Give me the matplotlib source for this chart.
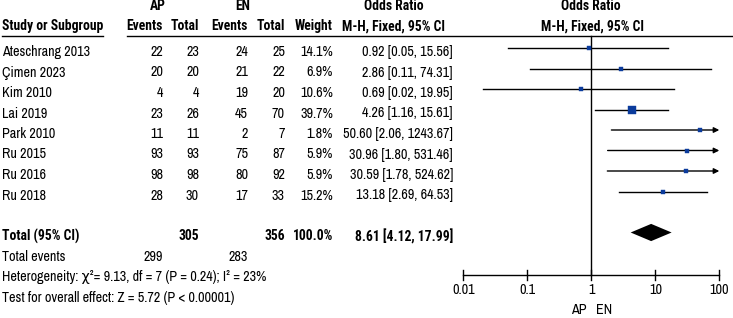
import matplotlib
matplotlib.use("Agg")
import matplotlib.pyplot as plt
from matplotlib.transforms import ScaledTranslation

plt.rcParams["font.family"] = ["Archivo Narrow", "DejaVu Sans"]
# Archivo Narrow ships only a regular weight; bold cells use Roboto Condensed
BOLD_FAMILY = ["Roboto Condensed", "DejaVu Sans"]

# ---------------------------------------------------------------------------
# Data
# ---------------------------------------------------------------------------
studies = ["Ateschrang 2013", "Çimen 2023", "Kim 2010", "Lai 2019",
           "Park 2010", "Ru 2015", "Ru 2016", "Ru 2018"]
ap_events = [22, 20, 4, 23, 11, 93, 98, 28]
ap_total = [23, 20, 4, 26, 11, 93, 98, 30]
en_events = [24, 21, 19, 45, 2, 75, 80, 17]
en_total = [25, 22, 20, 70, 7, 87, 92, 33]
weights = [14.1, 6.9, 10.6, 39.7, 1.8, 5.9, 5.9, 15.2]
odds = [0.92, 2.86, 0.69, 4.26, 50.60, 30.96, 30.59, 13.18]
ci_lo = [0.05, 0.11, 0.02, 1.16, 2.06, 1.80, 1.78, 2.69]
ci_hi = [15.56, 74.31, 19.95, 15.61, 1243.67, 531.46, 524.62, 64.53]

pooled = (8.61, 4.12, 17.99)
total_n = (305, 356)
total_events = (299, 283)
heterogeneity = "Heterogeneity: χ²= 9.13, df = 7 (P = 0.24); I² = 23%"
overall = "Test for overall effect: Z = 5.72 (P < 0.00001)"

x_ticks = [0.01, 0.1, 1, 10, 100]
x_ticklabels = ["0.01", "0.1", "1", "10", "100"]

# ---------------------------------------------------------------------------
# Layout
# ---------------------------------------------------------------------------
W, H = 733, 318
ROW0, ROWH = 48, 20.5          # pixel y of first study row, row pitch
YTOP, YBOT = -ROW0 / ROWH, (H - ROW0) / ROWH
FS = 10.2
FS_BOLD = 9.8
SQ_BLUE = "#0b3b9c"

fig = plt.figure(figsize=(W / 100, H / 100), dpi=100)

# table axes: x in pixels, y in row units
ax_t = fig.add_axes([0, 0, 1, 1])
ax_t.set_xlim(0, W)
ax_t.set_ylim(YBOT, YTOP)
ax_t.axis("off")
shift = ScaledTranslation(0, -4 / 100, fig.dpi_scale_trans)
tr = ax_t.transData + shift


def put(x, row, s, ha="right", bold=False):
    if bold:
        ax_t.text(x, row, s, ha=ha, va="center", fontsize=FS_BOLD, transform=tr,
                  fontweight="bold", family=BOLD_FAMILY)
    else:
        ax_t.text(x, row, s, ha=ha, va="center", fontsize=FS, transform=tr)


COLS = [163, 199, 248, 285, 333]   # right edges: events/total/events/total/weight
OR_RIGHT = 453
OR_CENTER = 394

# header
put(158, -2.25, "AP", ha="center", bold=True)
put(243, -2.25, "EN", ha="center", bold=True)
put(OR_CENTER, -2.25, "Odds Ratio", ha="center", bold=True)
put(2, -1.25, "Study or Subgroup", ha="left", bold=True)
for x, s in zip(COLS, ["Events", "Total", "Events", "Total", "Weight"]):
    put(x, -1.25, s, bold=True)
put(OR_CENTER, -1.25, "M-H, Fixed, 95% CI", ha="center", bold=True)
ax_t.plot([2, 103], [-0.6, -0.6], color="black", lw=1)
ax_t.plot([127, W], [-0.6, -0.6], color="black", lw=1)

# study rows
for i, name in enumerate(studies):
    put(2, i, name, ha="left")
    vals = [ap_events[i], ap_total[i], en_events[i], en_total[i], f"{weights[i]:.1f}%"]
    for x, v in zip(COLS, vals):
        put(x, i, str(v))
    put(OR_RIGHT, i, f"{odds[i]:.2f} [{ci_lo[i]:.2f}, {ci_hi[i]:.2f}]")

# totals
tot_row = len(studies) + 1
put(2, tot_row, "Total (95% CI)", ha="left", bold=True)
put(COLS[1], tot_row, str(total_n[0]), bold=True)
put(COLS[3], tot_row, str(total_n[1]), bold=True)
put(COLS[4], tot_row, "100.0%", bold=True)
put(OR_RIGHT, tot_row, f"{pooled[0]:.2f} [{pooled[1]:.2f}, {pooled[2]:.2f}]", bold=True)
put(2, tot_row + 1, "Total events", ha="left")
put(COLS[0], tot_row + 1, str(total_events[0]))
put(COLS[2], tot_row + 1, str(total_events[1]))
put(2, tot_row + 2, heterogeneity, ha="left")
put(2, tot_row + 3, overall, ha="left")

# ---------------------------------------------------------------------------
# Forest axes (log odds ratio)
# ---------------------------------------------------------------------------
ax_f = fig.add_axes([463.3 / W, 0, 256 / W, 1])
ax_f.patch.set_alpha(0)
ax_f.set_xscale("log")
ax_f.set_xlim(x_ticks[0], x_ticks[-1])
ax_f.set_ylim(YBOT, YTOP)
ax_f.axis("off")

axis_row = 11.07
ax_f.plot([1, 1], [-0.6, axis_row], color="black", lw=1, clip_on=False)

for i in range(len(studies)):
    hi = min(ci_hi[i], x_ticks[-1])
    if ci_hi[i] > x_ticks[-1]:
        # CI runs off the scale -> arrow at the right edge
        ax_f.annotate("", xy=(hi, i), xytext=(ci_lo[i], i),
                      arrowprops=dict(arrowstyle="-|>", color="black", lw=1,
                                      mutation_scale=8, shrinkA=0, shrinkB=0),
                      annotation_clip=False)
    else:
        ax_f.plot([ci_lo[i], hi], [i, i], color="black", lw=1, clip_on=False)
    side = 1.27 * weights[i] ** 0.5 * 0.72   # square area ~ weight
    ax_f.plot(odds[i], i, marker="s", ms=max(side, 2.2), color=SQ_BLUE,
              mec=SQ_BLUE, mew=0.3, zorder=3)

half = 0.42
ax_f.fill([pooled[1], pooled[0], pooled[2], pooled[0]],
          [tot_row, tot_row - half, tot_row, tot_row + half],
          color="black", lw=0)

# bottom axis
ax_f.plot([x_ticks[0], x_ticks[-1]], [axis_row, axis_row], color="black", lw=1, clip_on=False)
tick_h = 5 / ROWH
for t, lab in zip(x_ticks, x_ticklabels):
    ax_f.plot([t, t], [axis_row - tick_h, axis_row + tick_h], color="black", lw=1, clip_on=False)
    ax_f.text(t, axis_row + 0.75, lab, ha="center", va="center", fontsize=FS)

ax_f.annotate("AP", xy=(1, axis_row + 1.72), xytext=(-5, 0), textcoords="offset pixels",
              ha="right", va="center", fontsize=FS)
ax_f.annotate("EN", xy=(1, axis_row + 1.72), xytext=(5, 0), textcoords="offset pixels",
              ha="left", va="center", fontsize=FS)

ax_f.text(1, -2.25, "Odds Ratio", ha="center", va="center", fontsize=FS_BOLD,
          fontweight="bold", family=BOLD_FAMILY, transform=ax_f.transData + shift)
ax_f.text(1.03, -1.25, "M-H, Fixed, 95% CI", ha="center", va="center", fontsize=FS_BOLD,
          fontweight="bold", family=BOLD_FAMILY, transform=ax_f.transData + shift)

fig.savefig("out.png", dpi=100)
